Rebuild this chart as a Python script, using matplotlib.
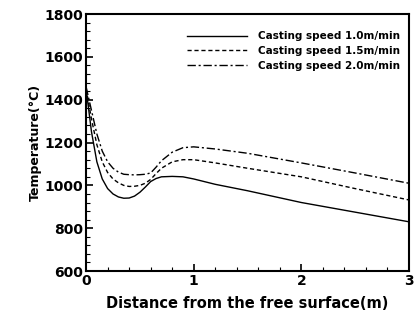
import numpy as np
import matplotlib.pyplot as plt
from matplotlib.ticker import MultipleLocator

# distance from the free surface (m)
x = [0, 0.05, 0.1, 0.15, 0.2, 0.25, 0.3, 0.35, 0.4, 0.45, 0.5, 0.55, 0.6,
     0.65, 0.7, 0.8, 0.9, 1.0, 1.2, 1.5, 2.0, 2.5, 3.0]

# temperature (C) for each casting speed
t_10 = [1450, 1250, 1110, 1030, 985, 960, 946, 940, 941, 950, 968, 992, 1018,
        1032, 1040, 1042, 1040, 1030, 1005, 975, 920, 875, 830]
t_15 = [1450, 1310, 1190, 1110, 1060, 1030, 1012, 1000, 995, 996, 1000, 1010, 1028,
        1055, 1080, 1110, 1120, 1120, 1105, 1080, 1040, 985, 932]
t_20 = [1460, 1350, 1240, 1160, 1110, 1080, 1062, 1052, 1050, 1049, 1050, 1052, 1058,
        1085, 1115, 1155, 1176, 1180, 1170, 1150, 1105, 1058, 1010]

yticks = [600, 800, 1000, 1200, 1400, 1600, 1800]

fig = plt.figure(figsize=(4.16, 3.2), dpi=100)
ax = fig.add_axes([0.207, 0.153, 0.776, 0.803])

ax.plot(x, t_10, color='black', lw=1.0, ls='-', label='Casting speed 1.0m/min')
ax.plot(x, t_15, color='black', lw=1.0, ls=(0, (3, 2)), label='Casting speed 1.5m/min')
ax.plot(x, t_20, color='black', lw=1.0, ls=(0, (6, 2, 1.5, 2)), label='Casting speed 2.0m/min')

ax.set_xlim(0, 3)
ax.set_ylim(600, 1800)
ax.set_xticks([0, 1, 2, 3])
ax.set_yticks(yticks)
ax.xaxis.set_minor_locator(MultipleLocator(0.2))
ax.yaxis.set_minor_locator(MultipleLocator(40))
ax.tick_params(which='both', direction='in', labelsize=10, pad=2)
ax.tick_params(which='major', length=5, width=1.2)
ax.tick_params(which='minor', length=3, width=0.8)
for lab in ax.get_xticklabels() + ax.get_yticklabels():
    lab.set_fontweight('bold')
for s in ax.spines.values():
    s.set_linewidth(1.5)

ax.set_xlabel('Distance from the free surface(m)', fontsize=10.5, fontweight='bold', labelpad=6)
ax.set_ylabel('Temperature(\u00b0C)', fontsize=9, fontweight='bold', labelpad=2)

leg = ax.legend(loc='upper right', frameon=False, prop={'size': 7.5, 'weight': 'bold'},
                handlelength=5.8, handletextpad=1.0, labelspacing=0.45,
                bbox_to_anchor=(1.0, 0.97))

fig.savefig('out.png', dpi=100)
